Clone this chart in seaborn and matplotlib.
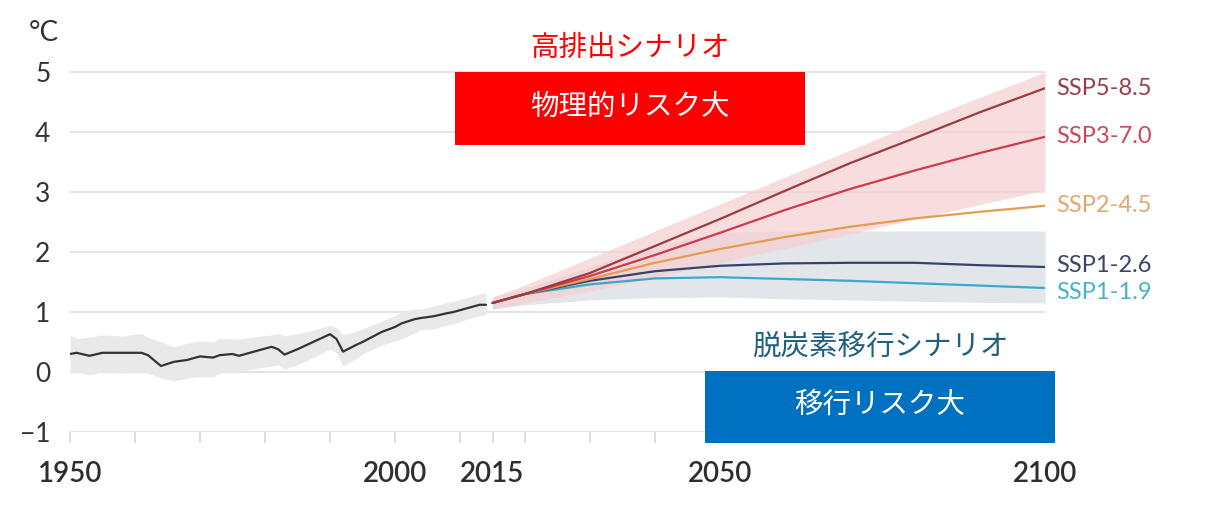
import matplotlib
matplotlib.use("Agg")
import matplotlib.pyplot as plt
from matplotlib.patches import Rectangle
import pandas as pd
import seaborn as sns

# historical observations (1950-2014)
hist_years = [1950, 1951, 1953, 1955, 1958, 1961, 1962, 1964, 1966, 1968, 1970, 1972, 1973,
              1975, 1976, 1978, 1981, 1982, 1983, 1985, 1987, 1990, 1991, 1992, 1994, 1995,
              1998, 2000, 2001, 2003, 2004, 2006, 2008, 2009, 2011, 2013, 2014]
hist_temp = [0.30, 0.32, 0.27, 0.32, 0.32, 0.32, 0.28, 0.10, 0.17, 0.20, 0.26, 0.24, 0.28,
             0.30, 0.27, 0.33, 0.42, 0.38, 0.29, 0.38, 0.48, 0.63, 0.55, 0.34, 0.45, 0.50,
             0.67, 0.75, 0.81, 0.88, 0.90, 0.93, 0.98, 1.00, 1.06, 1.12, 1.12]
hist_upper = [0.62, 0.56, 0.58, 0.62, 0.60, 0.64, 0.58, 0.50, 0.42, 0.48, 0.52, 0.50, 0.56,
              0.55, 0.55, 0.58, 0.62, 0.64, 0.60, 0.64, 0.68, 0.78, 0.74, 0.62, 0.68, 0.72,
              0.85, 0.94, 1.00, 1.05, 1.05, 1.10, 1.16, 1.18, 1.24, 1.30, 1.32]
hist_lower = [0.02, 0.00, -0.05, 0.00, -0.02, 0.00, -0.02, -0.10, -0.15, -0.10, -0.08, -0.08,
              -0.02, 0.00, 0.00, 0.05, 0.10, 0.12, 0.05, 0.12, 0.22, 0.38, 0.32, 0.10, 0.22,
              0.30, 0.45, 0.52, 0.55, 0.65, 0.70, 0.72, 0.78, 0.80, 0.88, 0.94, 0.95]

# scenario projections (2015-2100)
proj_years = [2015, 2020, 2030, 2040, 2050, 2060, 2070, 2080, 2090, 2100]
ssp585 = [1.15, 1.30, 1.65, 2.10, 2.55, 3.02, 3.48, 3.90, 4.33, 4.73]
ssp370 = [1.15, 1.30, 1.60, 1.95, 2.32, 2.70, 3.05, 3.36, 3.65, 3.92]
ssp245 = [1.15, 1.30, 1.55, 1.82, 2.05, 2.25, 2.42, 2.56, 2.67, 2.77]
ssp126 = [1.15, 1.30, 1.52, 1.68, 1.77, 1.81, 1.82, 1.82, 1.78, 1.75]
ssp119 = [1.15, 1.30, 1.46, 1.56, 1.58, 1.55, 1.52, 1.48, 1.44, 1.40]

# uncertainty ranges
red_upper = [1.25, 1.45, 1.90, 2.35, 2.80, 3.25, 3.70, 4.15, 4.58, 5.00]
red_lower = [1.05, 1.15, 1.35, 1.58, 1.82, 2.06, 2.30, 2.55, 2.79, 3.03]
grey_upper = [1.25, 1.40, 1.75, 2.10, 2.33, 2.35, 2.35, 2.35, 2.35, 2.35]
grey_lower = [1.05, 1.12, 1.20, 1.24, 1.25, 1.22, 1.20, 1.18, 1.16, 1.15]

scenarios = ["SSP5-8.5", "SSP3-7.0", "SSP2-4.5", "SSP1-2.6", "SSP1-1.9"]
line_colors = ["#9b3b42", "#d03a4c", "#e89a4e", "#35426a", "#39a8cb"]
label_colors = ["#9a3d47", "#c8485a", "#e4a76a", "#3a4465", "#4ab0cc"]
label_y = [4.73, 3.92, 2.77, 1.78, 1.32]

xtick_pos = [1950, 1960, 1970, 1980, 1990, 2000, 2010, 2015, 2020, 2030, 2040,
             2050, 2060, 2070, 2080, 2090, 2100]
xtick_labels = ["1950", "", "", "", "", "2000", "", "2015", "", "", "", "2050",
                "", "", "", "", "2100"]
yticks = [-1, 0, 1, 2, 3, 4, 5]
ytick_labels = ["\u22121", "0", "1", "2", "3", "4", "5"]

sns.set_theme(style="white")
plt.rcParams["font.family"] = ["Lato", "Noto Sans CJK JP", "DejaVu Sans"]
jp = ["Noto Sans CJK JP", "DejaVu Sans"]

W, H = 1205, 511
fig = plt.figure(figsize=(W / 100, H / 100), dpi=100)
ax = fig.add_axes([70 / W, (H - 432) / H, 975 / W, 366 / H])

proj = pd.DataFrame({"year": proj_years, "SSP5-8.5": ssp585, "SSP3-7.0": ssp370,
                     "SSP2-4.5": ssp245, "SSP1-2.6": ssp126, "SSP1-1.9": ssp119})
proj_long = proj.melt(id_vars="year", var_name="scenario", value_name="temp")
hist = pd.DataFrame({"year": hist_years, "temp": hist_temp})

ax.fill_between(hist_years, hist_lower, hist_upper, color="#e9e9e9", lw=0, zorder=1)
ax.fill_between(proj_years, grey_lower, grey_upper, color="#e2e5ea", lw=0, zorder=1)
ax.fill_between(proj_years, red_lower, red_upper, color="#f5cfd0", alpha=0.7, lw=0, zorder=2)

sns.lineplot(data=hist, x="year", y="temp", color="#333333", lw=1.6, ax=ax, zorder=4)
sns.lineplot(data=proj_long, x="year", y="temp", hue="scenario",
             hue_order=scenarios[::-1], palette=dict(zip(scenarios, line_colors)),
             lw=1.6, ax=ax, legend=False, zorder=4)

for name, yv, c in zip(scenarios, label_y, label_colors):
    ax.text(2101.8, yv, name, color=c, fontsize=17, va="center", ha="left")

ax.set_xlim(1950, 2100)
ax.set_ylim(-1, 5.1)
ax.set_xticks(xtick_pos)
ax.set_xticklabels(xtick_labels, fontsize=20, fontweight="semibold", color="#2e2e2e")
ax.set_yticks(yticks)
ax.set_yticklabels(ytick_labels, fontsize=19, color="#333333")
ax.yaxis.grid(True, color="#e4e4e4", lw=1.5, zorder=0)
ax.set_axisbelow(True)
for s in ax.spines.values():
    s.set_visible(False)
ax.tick_params(axis="x", bottom=True, length=8, width=1.2, color="#d8d8d8", pad=13)
ax.tick_params(axis="y", left=False, pad=8)
ax.set_xlabel("")
ax.set_ylabel("")

fig.text(44 / W, 1 - 33 / H, "°C", fontsize=20, color="#333333", ha="center", va="center")

# scenario callouts
fig.text(630 / W, 1 - 48 / H, "高排出シナリオ", family=jp, fontsize=20.5, color="#ff0000",
         ha="center", va="center")
fig.add_artist(Rectangle((455 / W, 1 - 145 / H), 350 / W, 73 / H,
                         transform=fig.transFigure, color="#ff0000", lw=0, zorder=5))
fig.text(630 / W, 1 - 107 / H, "物理的リスク大", family=jp, fontsize=20.5, color="white",
         ha="center", va="center", zorder=6)

fig.text(880 / W, 1 - 347 / H, "脱炭素移行シナリオ", family=jp, fontsize=20.5, color="#1f5f80",
         ha="center", va="center")
fig.add_artist(Rectangle((705 / W, 1 - 443 / H), 350 / W, 72 / H,
                         transform=fig.transFigure, color="#0070c0", lw=0, zorder=5))
fig.text(880 / W, 1 - 405 / H, "移行リスク大", family=jp, fontsize=20.5, color="white",
         ha="center", va="center", zorder=6)

fig.savefig("out.png", dpi=100)
